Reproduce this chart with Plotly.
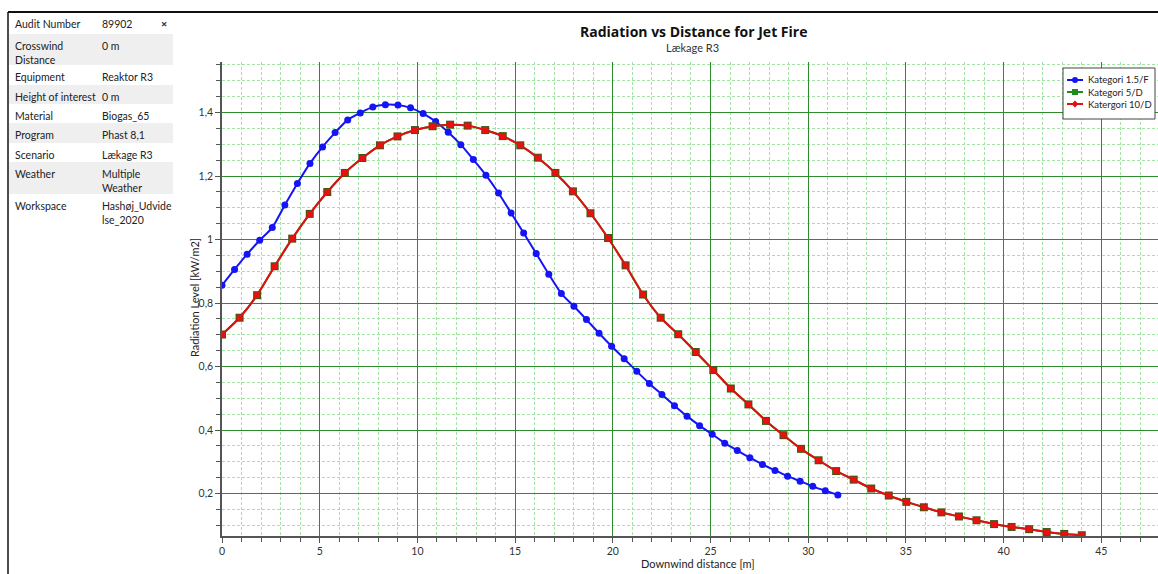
import plotly.graph_objects as go

# ---------------- data ----------------
dist_15F = [0, 0.643, 1.286, 1.930, 2.573, 3.216, 3.859, 4.502, 5.146, 5.789,
            6.432, 7.075, 7.718, 8.362, 9.005, 9.648, 10.291, 10.934, 11.578, 12.221,
            12.864, 13.507, 14.150, 14.794, 15.437, 16.080, 16.723, 17.366, 18.010, 18.653,
            19.296, 19.939, 20.582, 21.226, 21.869, 22.512, 23.155, 23.798, 24.442, 25.085,
            25.728, 26.371, 27.014, 27.658, 28.301, 28.944, 29.587, 30.230, 30.874, 31.517]
rad_15F = [0.856, 0.906, 0.954, 0.998, 1.038, 1.109, 1.177, 1.240, 1.292, 1.337,
           1.377, 1.399, 1.418, 1.425, 1.424, 1.415, 1.397, 1.372, 1.338, 1.299,
           1.252, 1.203, 1.147, 1.084, 1.021, 0.956, 0.891, 0.830, 0.790, 0.748,
           0.705, 0.664, 0.625, 0.585, 0.547, 0.512, 0.477, 0.444, 0.414, 0.387,
           0.359, 0.336, 0.313, 0.292, 0.273, 0.255, 0.239, 0.223, 0.209, 0.196]

dist_D = [0, 0.898, 1.796, 2.694, 3.592, 4.490, 5.388, 6.286, 7.184, 8.082,
          8.980, 9.878, 10.776, 11.673, 12.571, 13.469, 14.367, 15.265, 16.163, 17.061,
          17.959, 18.857, 19.755, 20.653, 21.551, 22.449, 23.347, 24.245, 25.143, 26.041,
          26.939, 27.837, 28.735, 29.633, 30.531, 31.429, 32.327, 33.224, 34.122, 35.020,
          35.918, 36.816, 37.714, 38.612, 39.510, 40.408, 41.306, 42.204, 43.102, 44.000]
rad_5D = [0.701, 0.754, 0.825, 0.916, 1.003, 1.081, 1.150, 1.210, 1.257, 1.297,
          1.325, 1.345, 1.357, 1.362, 1.359, 1.345, 1.326, 1.297, 1.258, 1.210,
          1.152, 1.083, 1.005, 0.919, 0.827, 0.754, 0.702, 0.646, 0.589, 0.531,
          0.481, 0.429, 0.384, 0.341, 0.305, 0.271, 0.244, 0.216, 0.194, 0.174,
          0.157, 0.141, 0.128, 0.116, 0.104, 0.095, 0.088, 0.079, 0.073, 0.069]
rad_10D = list(rad_5D)

series_names = ["Kategori 1.5/F", "Kategori 5/D", "Katergori 10/D"]
series_colors = ["#1414f5", "#1f8a1f", "#e01010"]

info_labels = ["Audit Number", "Crosswind<br>Distance", "Equipment", "Height of interest",
               "Material", "Program", "Scenario", "Weather", "Workspace"]
info_values = ["89902", "0 m", "Reaktor R3", "0 m", "Biogas_65", "Phast 8,1",
               "Lækage R3", "Multiple<br>Weather", "Hashøj_Udvide<br>lse_2020"]

# ---------------- layout geometry (pixels) ----------------
W_PX, H_PX = 1158, 574
L, R, T, B = 222, 0, 62, 38
PW = W_PX - L - R
PH = H_PX - T - B


def px(x):
    return (x - L) / PW


def py(y):
    return (H_PX - B - y) / PH


FONT = "Open Sans"
SMALL = "Lato"

fig = go.Figure()
fig.add_trace(go.Scatter(x=dist_15F, y=rad_15F, name=series_names[0], mode="lines+markers",
                         line=dict(color=series_colors[0], width=2, shape="spline", smoothing=0.6),
                         marker=dict(symbol="circle", size=7, color=series_colors[0])))
fig.add_trace(go.Scatter(x=dist_D, y=rad_5D, name=series_names[1], mode="lines+markers",
                         line=dict(color=series_colors[1], width=2, shape="spline", smoothing=0.6),
                         marker=dict(symbol="square", size=8, color="#3a5a14")))
fig.add_trace(go.Scatter(x=dist_D, y=rad_10D, name=series_names[2], mode="lines+markers",
                         line=dict(color=series_colors[2], width=2, shape="spline", smoothing=0.6),
                         marker=dict(symbol="square", size=6, color="#e81010")))

shapes = []
annotations = []
# top black rule and left border
shapes.append(dict(type="line", xref="paper", yref="paper", x0=px(8), x1=px(1158),
                   y0=py(12), y1=py(12), line=dict(color="#111", width=2), layer="above"))
shapes.append(dict(type="line", xref="paper", yref="paper", x0=px(8), x1=px(8),
                   y0=py(12), y1=py(574), line=dict(color="#111", width=1.5), layer="above"))

row_bounds = [(12, 34), (34, 65), (65, 85), (85, 104), (104, 123), (123, 143),
              (143, 162), (162, 194), (194, 226)]
for i, (y0, y1) in enumerate(row_bounds):
    if i % 2 == 1:
        shapes.append(dict(type="rect", xref="paper", yref="paper", x0=px(9), x1=px(173),
                           y0=py(y1), y1=py(y0), fillcolor="#efefef", line=dict(width=0),
                           layer="below"))
    annotations.append(dict(xref="paper", yref="paper", x=px(13), y=py(y0 + 4),
                            xanchor="left", yanchor="top", align="left", showarrow=False,
                            text=info_labels[i], font=dict(family=SMALL, size=10.5, color="#222")))
    annotations.append(dict(xref="paper", yref="paper", x=px(100), y=py(y0 + 4),
                            xanchor="left", yanchor="top", align="left", showarrow=False,
                            text=info_values[i], font=dict(family=SMALL, size=10.5, color="#222")))

annotations.append(dict(xref="paper", yref="paper", x=px(164), y=py(23), xanchor="center",
                        yanchor="middle", showarrow=False, text="<b>×</b>",
                        font=dict(family=FONT, size=11, color="#333")))
annotations.append(dict(xref="paper", yref="paper", x=px(693), y=py(31), xanchor="center",
                        yanchor="middle", showarrow=False,
                        text="<b>Radiation vs Distance for Jet Fire</b>",
                        font=dict(family=FONT, size=14, color="#111")))
annotations.append(dict(xref="paper", yref="paper", x=px(692), y=py(47), xanchor="center",
                        yanchor="middle", showarrow=False, text="Lækage R3",
                        font=dict(family=SMALL, size=11, color="#333")))
# axis titles
annotations.append(dict(xref="paper", yref="paper", x=px(698), y=py(563), xanchor="center",
                        yanchor="middle", showarrow=False, text="Downwind distance [m]",
                        font=dict(family=SMALL, size=11, color="#222")))
annotations.append(dict(xref="paper", yref="paper", x=px(194), y=py(298), xanchor="center",
                        yanchor="middle", showarrow=False, text="Radiation Level [kW/m2]",
                        textangle=-90, font=dict(family=SMALL, size=11, color="#222")))

# ---------------- hand-drawn legend box ----------------
LX0, LX1, LY0, LY1 = 1063, 1155, 68, 119
shapes.append(dict(type="rect", xref="paper", yref="paper", x0=px(LX0), x1=px(LX1),
                   y0=py(LY1), y1=py(LY0), fillcolor="white", line=dict(color="#444", width=1),
                   layer="above"))
for k, name in enumerate(series_names):
    yy = 80 + 12 * k
    col = series_colors[k]
    shapes.append(dict(type="line", xref="paper", yref="paper", x0=px(1067), x1=px(1083),
                       y0=py(yy), y1=py(yy), line=dict(color=col, width=2), layer="above"))
    if k == 0:
        shapes.append(dict(type="circle", xref="paper", yref="paper", x0=px(1072), x1=px(1078),
                           y0=py(yy + 3), y1=py(yy - 3), fillcolor=col, line=dict(width=0),
                           layer="above"))
    elif k == 1:
        shapes.append(dict(type="rect", xref="paper", yref="paper", x0=px(1072), x1=px(1078),
                           y0=py(yy + 3), y1=py(yy - 3), fillcolor=col, line=dict(width=0),
                           layer="above"))
    else:
        path = "M {a},{b} L {c},{d} L {a},{e} L {f},{d} Z".format(
            a=px(1075), b=py(yy - 3.5), c=px(1078.5), d=py(yy), e=py(yy + 3.5), f=px(1071.5))
        shapes.append(dict(type="path", xref="paper", yref="paper", path=path,
                           fillcolor=col, line=dict(width=0), layer="above"))
    annotations.append(dict(xref="paper", yref="paper", x=px(1086), y=py(yy),
                            xanchor="left", yanchor="middle", showarrow=False, text=name,
                            font=dict(family=SMALL, size=9.5, color="#222")))

major_grid = "#2e8b2e"
minor_grid = "#a3e3a3"

fig.update_layout(
    width=W_PX, height=H_PX,
    margin=dict(l=L, r=R, t=T, b=B, pad=0, autoexpand=False),
    paper_bgcolor="white", plot_bgcolor="white",
    separators=",.",
    font=dict(family=FONT, size=10, color="#333"),
    showlegend=False,
    shapes=shapes,
    annotations=annotations,
    xaxis=dict(range=[0, 47.9], dtick=5, tick0=0, showgrid=True, gridcolor=major_grid,
               gridwidth=1, zeroline=False, showline=True, linecolor="#555", linewidth=1.5,
               ticks="outside", ticklen=5, tickcolor="#555", automargin=False,
               tickfont=dict(family=SMALL, size=10.5, color="#333"),
               minor=dict(dtick=1, showgrid=True, gridcolor=minor_grid, griddash="3px,2px",
                          gridwidth=1, ticks="outside", ticklen=4, tickcolor="#555")),
    yaxis=dict(range=[0.0665, 1.5594], dtick=0.2, tick0=0, showgrid=True, gridcolor=major_grid,
               gridwidth=1, zeroline=False, showline=True, linecolor="#555", linewidth=1.5,
               ticks="outside", ticklen=5, tickcolor="#555", automargin=False,
               tickfont=dict(family=SMALL, size=10.5, color="#333"),
               minor=dict(dtick=0.05, showgrid=True, gridcolor=minor_grid, griddash="3px,2px",
                          gridwidth=1, ticks="outside", ticklen=4, tickcolor="#555")),
)

fig.write_html("out.html")
